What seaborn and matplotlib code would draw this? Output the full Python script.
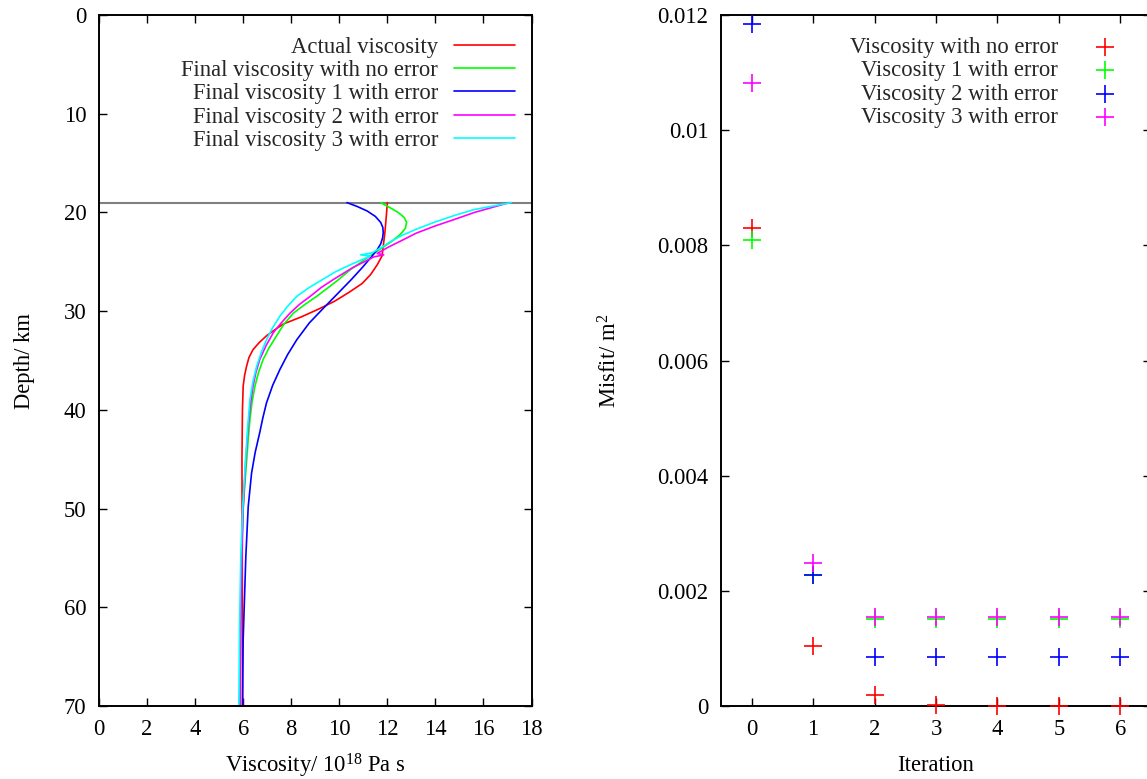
import matplotlib
matplotlib.use("Agg")
import matplotlib.pyplot as plt
import seaborn as sns
import pandas as pd

# --- left panel: viscosity profiles (depth in km, viscosity in 10^18 Pa s)
actual_depth = [19, 20, 22, 24.4, 25.3, 26.3, 27.2, 28.1, 29.0, 29.8, 30.6, 31.3, 32.0, 32.5, 33.2, 33.9, 34.7, 35.6, 36.5, 37.6, 40, 45, 55, 70]
actual_visc = [12.0, 11.97, 11.9, 11.78, 11.58, 11.3, 10.95, 10.4, 9.8, 9.13, 8.4, 7.67, 7.25, 6.97, 6.66, 6.41, 6.24, 6.14, 6.06, 6.0, 5.97, 5.95, 5.96, 5.98]

noerr_depth = [19, 19.5, 20, 20.5, 21, 21.6, 22.2, 22.9, 23.6, 24.6, 25.8, 26.8, 27.5, 28.5, 29.3, 30.2, 31.3, 32.5, 33.7, 34.9, 36.2, 37.6, 39.2, 41, 43, 45, 47.5, 50, 55, 62, 70]
noerr_visc = [11.72, 12.1, 12.45, 12.7, 12.8, 12.75, 12.55, 12.2, 11.78, 11.16, 10.46, 9.97, 9.6, 9.06, 8.58, 8.09, 7.7, 7.39, 7.08, 6.83, 6.64, 6.49, 6.37, 6.28, 6.21, 6.15, 6.07, 6.0, 5.92, 5.89, 5.88]

err1_depth = [19, 19.4, 19.85, 20.4, 21.0, 21.5, 22.05, 22.6, 23.2, 23.8, 24.4, 25.6, 26.8, 27.8, 28.8, 29.8, 31.2, 32.9, 34.4, 35.9, 37.5, 39.3, 40.8, 42.3, 44.3, 46.4, 49.8, 54.9, 63.3, 70]
err1_visc = [10.32, 10.75, 11.16, 11.5, 11.72, 11.81, 11.83, 11.8, 11.72, 11.57, 11.37, 10.95, 10.5, 10.1, 9.7, 9.3, 8.75, 8.23, 7.85, 7.53, 7.23, 6.97, 6.82, 6.69, 6.5, 6.35, 6.21, 6.11, 6.0, 5.97]

err2_depth = [19, 19.5, 20.0, 20.7, 21.4, 22.1, 22.9, 23.5, 24.15, 24.3, 24.5, 25.6, 26.8, 27.6, 28.5, 29.3, 30.2, 31.2, 32.2, 33.5, 34.9, 36.2, 37.6, 39.5, 41.7, 45, 50, 55, 62, 70]
err2_visc = [17.08, 16.35, 15.62, 14.8, 13.95, 13.2, 12.55, 12.05, 11.58, 11.85, 11.44, 10.55, 9.75, 9.25, 8.79, 8.35, 7.95, 7.58, 7.25, 6.95, 6.69, 6.53, 6.41, 6.3, 6.21, 6.11, 6.0, 5.95, 5.9, 5.87]

err3_depth = [19, 19.35, 19.7, 20.3, 21.0, 21.7, 22.4, 23.0, 23.6, 24.08, 24.3, 24.4, 25.3, 26.0, 26.8, 27.6, 28.5, 29.5, 30.5, 31.7, 32.9, 34.2, 35.6, 37.2, 39, 42, 45, 50, 55, 62, 70]
err3_visc = [17.15, 16.4, 15.62, 14.8, 13.95, 13.2, 12.55, 12.1, 11.72, 11.37, 10.89, 11.3, 10.46, 9.85, 9.3, 8.75, 8.23, 7.85, 7.53, 7.22, 6.97, 6.75, 6.56, 6.4, 6.28, 6.18, 6.1, 5.98, 5.9, 5.85, 5.82]

profile_labels = ["Actual viscosity", "Final viscosity with no error", "Final viscosity 1 with error",
                  "Final viscosity 2 with error", "Final viscosity 3 with error"]
profile_colors = ["#ff0000", "#00ff00", "#0000ff", "#ff00ff", "#00ffff"]
interface_depth = 19

# --- right panel: misfit per iteration
iterations = [0, 1, 2, 3, 4, 5, 6]
misfit_noerr = [0.0083, 0.00104, 0.00019, 0.00001, 0.0, 0.0, 0.0]
misfit_err1 = [0.0081, 0.00228, 0.00151, 0.00151, 0.00151, 0.00151, 0.00151]
misfit_err2 = [0.01185, 0.00227, 0.00085, 0.00085, 0.00085, 0.00085, 0.00085]
misfit_err3 = [0.01082, 0.00249, 0.00155, 0.00155, 0.00155, 0.00155, 0.00155]
misfit_labels = ["Viscosity with no error", "Viscosity 1 with error",
                 "Viscosity 2 with error", "Viscosity 3 with error"]
misfit_colors = ["#ff0000", "#00ff00", "#0000ff", "#ff00ff"]
misfit_ticks = [0, 0.002, 0.004, 0.006, 0.008, 0.01, 0.012]
misfit_ticklabels = ["0", "0.002", "0.004", "0.006", "0.008", "0.01", "0.012"]

FS = 16.3

sns.set_theme(style="ticks")
plt.rcParams["font.family"] = ["Liberation Serif", "DejaVu Serif"]
plt.rcParams["mathtext.default"] = "regular"
plt.rcParams["font.size"] = FS
plt.rcParams["axes.linewidth"] = 1.4
plt.rcParams["axes.edgecolor"] = "black"

fig = plt.figure(figsize=(11.47, 7.79), dpi=100)
ax1 = fig.add_axes([0.0863, 0.0937, 0.3771, 0.887])
ax2 = fig.add_axes([0.6286, 0.0937, 0.3749, 0.887])

profiles = [(actual_visc, actual_depth), (noerr_visc, noerr_depth), (err1_visc, err1_depth),
            (err2_visc, err2_depth), (err3_visc, err3_depth)]
for (v, d), lab, col in zip(profiles, profile_labels, profile_colors):
    df = pd.DataFrame({"visc": v, "depth": d})
    sns.lineplot(data=df, x="visc", y="depth", sort=False, estimator=None,
                 color=col, lw=1.2, label=lab, ax=ax1)
ax1.axhline(interface_depth, color="#808080", lw=1.5, zorder=0)
ax1.set_xlim(0, 18)
ax1.set_ylim(70, 0)
ax1.set_xticks(range(0, 19, 2))
ax1.set_yticks(range(0, 71, 10))
ax1.set_xlabel("Viscosity/ 10$^{18}$ Pa s", fontsize=FS, labelpad=9)
ax1.set_ylabel("Depth/ km", fontsize=FS, labelpad=21)
ax1.legend(loc="upper right", bbox_to_anchor=(0.962, 0.9685), frameon=False,
           markerfirst=False, handlelength=2.7, handletextpad=0.7,
           labelspacing=0.1, borderpad=0, borderaxespad=0, fontsize=FS)

misfits = [misfit_noerr, misfit_err1, misfit_err2, misfit_err3]
for m, lab, col in zip(misfits, misfit_labels, misfit_colors):
    df = pd.DataFrame({"it": iterations, "misfit": m})
    sns.scatterplot(data=df, x="it", y="misfit", marker="+", s=150, color=col,
                    linewidth=1.2, label=lab, ax=ax2, clip_on=False, zorder=3)
ax2.set_xlim(-0.5, 6.5)
ax2.set_ylim(0, 0.012)
ax2.set_xticks(iterations)
ax2.set_yticks(misfit_ticks)
ax2.set_yticklabels(misfit_ticklabels)
ax2.set_xlabel("Iteration", fontsize=FS, labelpad=11)
ax2.set_ylabel("Misfit/ m$^2$", fontsize=FS, labelpad=26)
ax2.legend(loc="upper right", bbox_to_anchor=(0.9465, 0.968), frameon=False,
           markerfirst=False, handlelength=2.0, handletextpad=1.1, scatterpoints=1,
           labelspacing=0.1, borderpad=0, borderaxespad=0, fontsize=FS)

for ax in (ax1, ax2):
    ax.tick_params(direction="in", top=True, right=True, length=6, width=1.0,
                   labelsize=FS, pad=9, colors="black")
    ax.xaxis.label.set_color("black")
    ax.yaxis.label.set_color("black")

fig.savefig("out.png", dpi=100)
